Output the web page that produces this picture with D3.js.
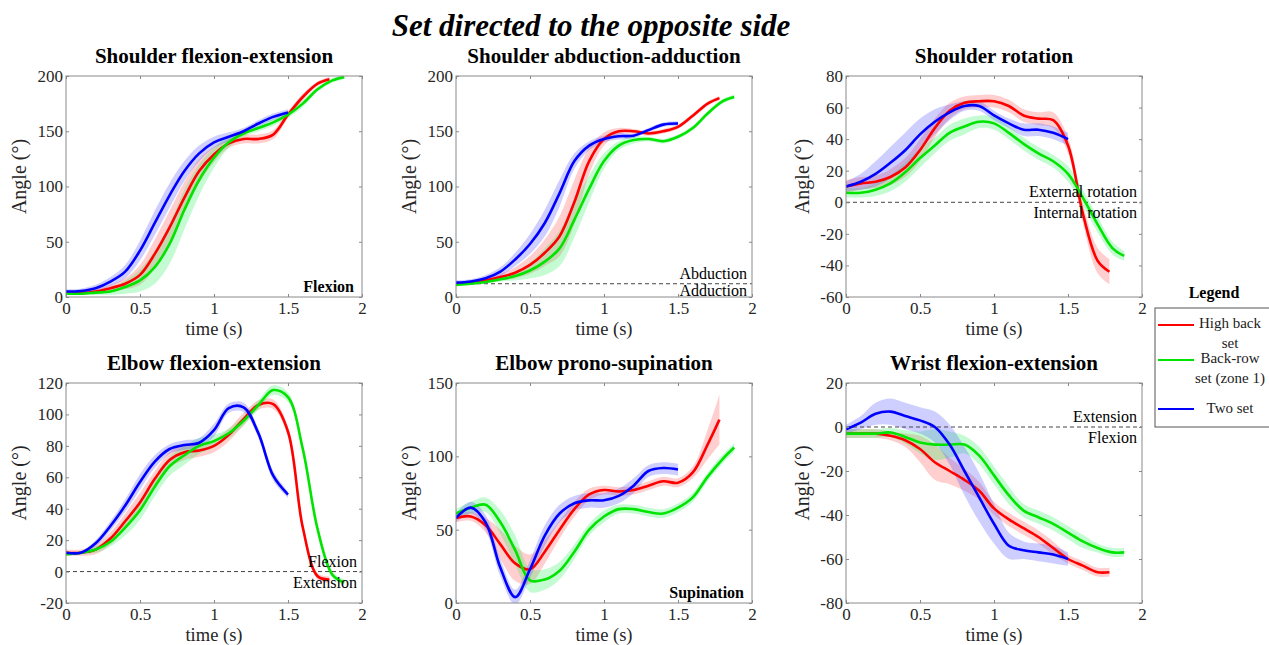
<!DOCTYPE html>
<html>
<head>
<meta charset="utf-8">
<script src="https://cdn.jsdelivr.net/npm/d3@7"></script>
<style>
  body { margin: 0; background: #fff; }
  text { font-family: "Liberation Serif", "Times New Roman", serif; }
</style>
</head>
<body>
<svg id="chart" width="1269" height="645"></svg>
<script>
// time bases (s)
var tRed   = [0,0.1,0.2,0.3,0.4,0.5,0.6,0.7,0.8,0.9,1.0,1.1,1.2,1.3,1.4,1.5,1.6,1.7,1.78];
var tGreen = [0,0.1,0.2,0.3,0.4,0.5,0.6,0.7,0.8,0.9,1.0,1.1,1.2,1.3,1.4,1.5,1.6,1.7,1.8,1.88];
var tBlue  = [0,0.1,0.2,0.3,0.4,0.5,0.6,0.7,0.8,0.9,1.0,1.1,1.2,1.3,1.4,1.5];

// shoulder flexion-extension
var sfeRed     = [3,3.5,5,8,12,20,39,63,90,114,129,139,143,143,147,165,181,193,197];
var sfeRedSd   = [1,1,2,3,5,9,13,15,14,11,7,4,4,4,4,3,3,2,2];
var sfeGreen   = [3,3,4,5,9,15,27,48,79,106,126,140,148,153,158,165,175,188,196,199];
var sfeGreenSd = [1,1,2,3,6,10,15,18,18,14,9,5,3,3,3,3,3,2,2,2];
var sfeBlue    = [5,5.5,8,14,23,42,67,92,114,130,140,145,150,157,163,167];
var sfeBlueSd  = [2,2,3,4,6,9,11,11,9,7,5,4,3,3,3,3];

// shoulder abduction-adduction
var saaRed     = [12,13,15,18,22,29,40,55,86,123,143,150,150,148,150,154,164,175,180];
var saaRedSd   = [1,1,2,3,5,8,12,18,20,12,6,3,2,2,2,2,2,2,2];
var saaGreen   = [11,12,13.5,16,19,24,32,44,70,98,123,137,142,143,141,145,153,166,177,181];
var saaGreenSd = [1,1,1,2,4,7,12,16,16,12,7,4,3,2,2,2,2,2,2,2];
var saaBlue    = [13,14,17,23,34,48,67,94,123,137,143,145.5,146,151,156,157];
var saaBlueSd  = [2,2,3,4,6,9,12,12,7,4,3,3,2,2,2,2];

// shoulder rotation
var srRed      = [10,12,13,16,22,33,47,58,63,64,64,61,55,53,52,36,-7,-37,-44];
var srRedSd    = [4,4,4,5,6,7,6,5,4,4,4,4,4,4,5,5,6,8,8];
var srGreen    = [6,6,8,12,19,28,36,44,48,51,50,44,37,31,26,18,3,-14,-29,-34];
var srGreenSd  = [3,3,4,5,6,6,5,5,5,4,4,4,4,4,4,5,5,5,4,3];
var srBlue     = [10,13,18,25,33,43,51,57,61,61,55,50,46,46,44,40];
var srBlueSd   = [3,5,8,10,11,10,8,5,3,3,3,3,4,4,4,4];

// elbow flexion-extension
var efeRed     = [12,12,14,21,32,44,59,71,76,77,80,87,97,106,106.5,89,28,-3,-5];
var efeRedSd   = [2,2,3,4,5,6,5,5,5,4,4,4,4,3,3,3,3,2,2];
var efeGreen   = [11,12,14,19,28,39,54,67,74,80,83,88,96,106,115.5,111,78,27,-2,-7];
var efeGreenSd = [1,1,2,3,5,6,6,6,6,5,4,3,3,3,3,3,3,2,2,2];
var efeBlue    = [12,12,18,29,42,57,70,78,80.5,82,90,104,104.5,88,61,49];
var efeBlueSd  = [1,1,2,3,4,5,4,3,3,3,4,3,3,3,3,2];

// elbow prono-supination
var epsRed     = [58,59,53,40,27,23,35,50,64,74,77,76,77,80,83,82,89,108,125];
var epsRedSd   = [3,3,5,10,12,10,8,6,5,4,3,3,3,3,3,3,4,10,17];
var epsGreen   = [61,65,67,55,36,15.5,16,22,35,50,59,64,64,62,61,65,72,86,98,106];
var epsGreenSd = [3,4,5,8,10,8,7,6,5,4,4,3,3,3,3,3,3,3,3,3];
var epsBlue    = [58,65,55,24,4,23,46,61,68,70,70,73,80,90,92,91];
var epsBlueSd  = [3,4,5,6,5,6,7,6,5,5,5,5,5,4,4,4];

// wrist flexion-extension
var wfeRed     = [-3,-3,-3,-4,-6,-10,-16,-20,-24,-29,-37,-42,-46,-50,-55,-60,-63,-66,-66];
var wfeRedSd   = [2,2,2,2,3,6,8,6,5,4,3,3,3,3,3,2,2,2,2];
var wfeGreen   = [-3,-3,-3,-2.5,-4.5,-7,-8,-8,-8,-13,-22,-31,-38,-41,-44,-48,-52,-55,-57,-57];
var wfeGreenSd = [2,2,2,2,3,5,7,6,4,4,4,4,3,3,3,3,3,2,2,2];
var wfeBlue    = [-1,2,6,7,5,3,0,-8,-20,-32,-44,-54,-56,-57,-58,-60];
var wfeBlueSd  = [2,3,5,6,6,6,7,9,11,11,9,6,4,4,4,3];

var titles = ['Shoulder flexion-extension','Shoulder abduction-adduction','Shoulder rotation',
              'Elbow flexion-extension','Elbow prono-supination','Wrist flexion-extension'];
var yDomains = [[0,200],[0,200],[-60,80],[-20,120],[0,150],[-80,20]];
var yTicks = [[0,50,100,150,200],[0,50,100,150,200],[-60,-40,-20,0,20,40,60,80],
              [-20,0,20,40,60,80,100,120],[0,50,100,150],[-80,-60,-40,-20,0,20]];
var xTicks = [0,0.5,1,1.5,2];
var refLines = [null,12,0,0,null,0];
var notesAbove = ['','Abduction','External rotation','Flexion','','Extension'];
var notesBelow = ['Flexion','Adduction','Internal rotation','Extension','Supination','Flexion'];
var legendNames = [['High back','set'],['Back-row','set (zone 1)'],['Two set']];

var seriesData = [
  [[sfeRed,sfeRedSd],[sfeGreen,sfeGreenSd],[sfeBlue,sfeBlueSd]],
  [[saaRed,saaRedSd],[saaGreen,saaGreenSd],[saaBlue,saaBlueSd]],
  [[srRed,srRedSd],[srGreen,srGreenSd],[srBlue,srBlueSd]],
  [[efeRed,efeRedSd],[efeGreen,efeGreenSd],[efeBlue,efeBlueSd]],
  [[epsRed,epsRedSd],[epsGreen,epsGreenSd],[epsBlue,epsBlueSd]],
  [[wfeRed,wfeRedSd],[wfeGreen,wfeGreenSd],[wfeBlue,wfeBlueSd]]
];
var times = [tRed,tGreen,tBlue];
var lineColors = ['#ff0000','#00e400','#0000ff'];
var bandColors = ['#ff5050','#30f060','#5050ff'];

var svg = d3.select('#chart');
var cols = [66,456,846], rows = [76,383], pw = 296, ph = [221,220];
var smooth = d3.curveCatmullRom.alpha(0.5);

function drawPanel(i) {
    var row = Math.floor(i / 3);
    var x0 = cols[i % 3], y0 = rows[row], h = ph[row];
    var x = d3.scaleLinear().domain([0,2]).range([x0, x0 + pw]);
    var y = d3.scaleLinear().domain(yDomains[i]).range([y0 + h, y0]);
    var g = svg.append('g');

    g.append('clipPath').attr('id','clip' + i)
        .append('rect').attr('x', x0).attr('y', y0).attr('width', pw).attr('height', h);

    var plot = g.append('g').attr('clip-path', 'url(#clip' + i + ')');

    // sd bands
    seriesData[i].forEach(function(s, k) {
        var pts = times[k].map(function(t, j) { return {t: t, m: s[0][j], sd: s[1][j]}; });
        var area = d3.area()
            .x(function(d) { return x(d.t); })
            .y0(function(d) { return y(d.m - d.sd); })
            .y1(function(d) { return y(d.m + d.sd); })
            .curve(smooth);
        plot.append('path').datum(pts)
            .attr('d', area)
            .attr('fill', bandColors[k])
            .attr('fill-opacity', 0.28);
    });

    if (refLines[i] !== null) {
        plot.append('line')
            .attr('x1', x0).attr('x2', x0 + pw)
            .attr('y1', y(refLines[i])).attr('y2', y(refLines[i]))
            .attr('stroke', '#444').attr('stroke-width', 1)
            .attr('stroke-dasharray', '4,3');
    }

    // mean lines
    seriesData[i].forEach(function(s, k) {
        var pts = times[k].map(function(t, j) { return {t: t, m: s[0][j]}; });
        var line = d3.line()
            .x(function(d) { return x(d.t); })
            .y(function(d) { return y(d.m); })
            .curve(smooth);
        plot.append('path').datum(pts)
            .attr('d', line)
            .attr('fill', 'none')
            .attr('stroke', lineColors[k])
            .attr('stroke-width', 2.6);
    });

    // axes (ticks inside, mirrored on top and right)
    g.append('g').attr('transform', 'translate(0,' + (y0 + h) + ')')
        .call(d3.axisBottom(x).tickValues(xTicks).tickSize(-3).tickPadding(5).tickFormat(d3.format('')));
    g.append('g').attr('transform', 'translate(0,' + y0 + ')')
        .call(d3.axisTop(x).tickValues(xTicks).tickSize(-3).tickFormat(''));
    g.append('g').attr('transform', 'translate(' + x0 + ',0)')
        .call(d3.axisLeft(y).tickValues(yTicks[i]).tickSize(-3).tickPadding(3).tickFormat(function(d) { return String(d); }));
    g.append('g').attr('transform', 'translate(' + (x0 + pw) + ',0)')
        .call(d3.axisRight(y).tickValues(yTicks[i]).tickSize(-3).tickFormat(''));

    g.selectAll('.domain').remove();
    g.selectAll('.tick line').attr('stroke', '#8a8a8a');
    g.selectAll('.tick text')
        .attr('font-family', '"Liberation Serif", "Times New Roman", serif')
        .attr('font-size', 17).attr('fill', '#262626');

    g.append('rect')
        .attr('x', x0).attr('y', y0).attr('width', pw).attr('height', h)
        .attr('fill', 'none').attr('stroke', '#8a8a8a').attr('stroke-width', 1);

    // labels
    g.append('text').attr('x', x0 + pw / 2).attr('y', y0 - 13)
        .attr('text-anchor', 'middle').attr('font-size', 21).attr('font-weight', 'bold')
        .text(titles[i]);
    g.append('text').attr('x', x0 + pw / 2).attr('y', y0 + h + 38)
        .attr('text-anchor', 'middle').attr('font-size', 18.5).attr('fill', '#262626')
        .text('time (s)');
    var lx = (i % 3 === 2) ? x0 - 37 : x0 - 40;
    g.append('text')
        .attr('transform', 'translate(' + lx + ',' + (y0 + h / 2 - 10) + ') rotate(-90)')
        .attr('text-anchor', 'middle').attr('font-size', 20).attr('fill', '#262626')
        .text('Angle (°)');

    // annotations
    var rx = x0 + pw - 5;
    if (refLines[i] !== null) {
        var ry = y(refLines[i]);
        g.append('text').attr('x', rx).attr('y', ry - 5)
            .attr('text-anchor', 'end').attr('font-size', 16).text(notesAbove[i]);
        g.append('text').attr('x', rx).attr('y', ry + (i === 1 ? 12 : 16))
            .attr('text-anchor', 'end').attr('font-size', 16).text(notesBelow[i]);
    } else {
        g.append('text').attr('x', x0 + pw - 8).attr('y', y0 + h - 5)
            .attr('text-anchor', 'end').attr('font-size', 16).attr('font-weight', 'bold')
            .text(notesBelow[i]);
    }
}

function drawLegend() {
    svg.append('text').attr('x', 1214).attr('y', 298)
        .attr('text-anchor', 'middle').attr('font-size', 16).attr('font-weight', 'bold')
        .text('Legend');
    svg.append('rect').attr('x', 1155).attr('y', 308).attr('width', 130).attr('height', 119)
        .attr('fill', '#fff').attr('stroke', '#555').attr('stroke-width', 1);
    var lineY = [325, 360, 409];
    var textY = [[328, 348], [363, 383], [413]];
    legendNames.forEach(function(names, k) {
        svg.append('line').attr('x1', 1158).attr('x2', 1194)
            .attr('y1', lineY[k]).attr('y2', lineY[k])
            .attr('stroke', lineColors[k]).attr('stroke-width', 2);
        names.forEach(function(n, j) {
            svg.append('text').attr('x', 1230).attr('y', textY[k][j])
                .attr('text-anchor', 'middle').attr('font-size', 15).attr('fill', '#222')
                .text(n);
        });
    });
}

function init() {
    svg.append('text').attr('x', 591).attr('y', 36)
        .attr('text-anchor', 'middle').attr('font-size', 31)
        .attr('font-weight', 'bold').attr('font-style', 'italic')
        .text('Set directed to the opposite side');
    for (var i = 0; i < 6; i++) drawPanel(i);
    drawLegend();
}

init();
</script>
</body>
</html>
